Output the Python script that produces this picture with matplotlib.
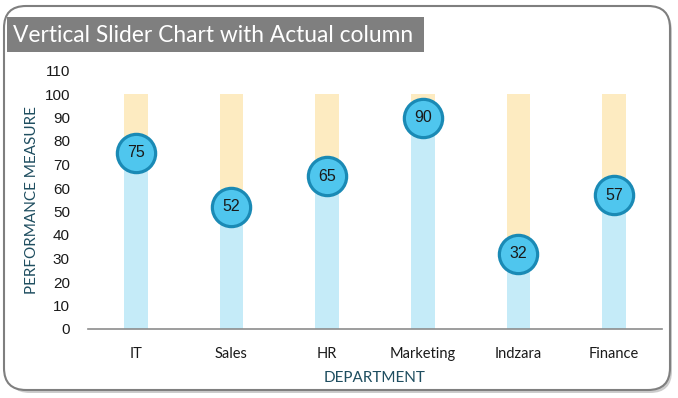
import matplotlib
matplotlib.use("Agg")
import matplotlib.pyplot as plt
from matplotlib.patches import FancyBboxPatch, Rectangle
import numpy as np

categories = ["IT", "Sales", "HR", "Marketing", "Indzara", "Finance"]
actual = [75, 52, 65, 90, 32, 57]
target = [100, 100, 100, 100, 100, 100]
yticks = [0, 10, 20, 30, 40, 50, 60, 70, 80, 90, 100, 110]

W, H = 678, 398
fig = plt.figure(figsize=(W / 100, H / 100), dpi=100)
fig.patch.set_facecolor("white")

# background frame with shadow
bg = fig.add_axes([0, 0, 1, 1])
bg.set_xlim(0, W)
bg.set_ylim(H, 0)
bg.axis("off")
shadow = FancyBboxPatch((8, 9), W - 14, H - 14, boxstyle="round,pad=0,rounding_size=22",
                        facecolor="#9a9a9a", edgecolor="none", alpha=0.5)
bg.add_patch(shadow)
frame = FancyBboxPatch((4, 6), W - 12, H - 14, boxstyle="round,pad=0,rounding_size=22",
                       facecolor="white", edgecolor="#7f7f7f", linewidth=1.5)
bg.add_patch(frame)
# faint dotted pattern
xs, ys = np.meshgrid(np.arange(10, W - 10, 6), np.arange(12, H - 12, 6))
bg.scatter(xs.ravel(), ys.ravel(), s=0.5, color="#d6eef5", marker="s", linewidths=0)
# title box
bg.add_patch(Rectangle((7, 17), 417, 35, facecolor="#7f7f7f", edgecolor="none"))
bg.text(13, 35, "Vertical Slider Chart with Actual column", color="white",
        fontsize=16.4, family="Lato", va="center", ha="left")

ax = fig.add_axes([88 / W, 1 - 329 / H, (662 - 88) / W, (329 - 70.5) / H])
ax.patch.set_alpha(0)
x = np.arange(len(categories))
ax.bar(x, target, width=0.25, color="#fdebc1", zorder=1)
ax.bar(x, actual, width=0.25, color="#c5ebf8", zorder=2)
ax.scatter(x, actual, s=760, color="#4fc6ee", edgecolor="#1a8ab5", linewidths=2.3, zorder=3)
for xi, v in zip(x, actual):
    ax.text(xi, v, str(v), ha="center", va="center", fontsize=11.5,
            family="Liberation Sans", color="#1a1a1a", zorder=4)

ax.set_xlim(-0.5, len(categories) - 0.5)
ax.set_ylim(0, 110)
ax.set_yticks(yticks)
ax.set_yticklabels([str(t) for t in yticks], family="Liberation Sans", fontsize=11, color="#1a1a1a")
ax.set_xticks(x)
ax.set_xticklabels(categories, family="Lato", fontsize=10.5, color="#1a1a1a")
ax.tick_params(length=0)
ax.tick_params(axis="y", pad=13)
ax.tick_params(axis="x", pad=13)
for s in ["top", "right", "left"]:
    ax.spines[s].set_visible(False)
ax.spines["bottom"].set_color("#8c8c8c")
ax.spines["bottom"].set_linewidth(1.2)

fig.text(32 / W, 1 - 200 / H, "PERFORMANCE MEASURE", rotation=90, ha="center", va="center",
         color="#1f4e60", fontsize=11, family="Lato")
fig.text(375 / W, 1 - 378 / H, "DEPARTMENT", ha="center", va="center",
         color="#1f4e60", fontsize=11, family="Lato")

fig.savefig("out.png", dpi=100)
